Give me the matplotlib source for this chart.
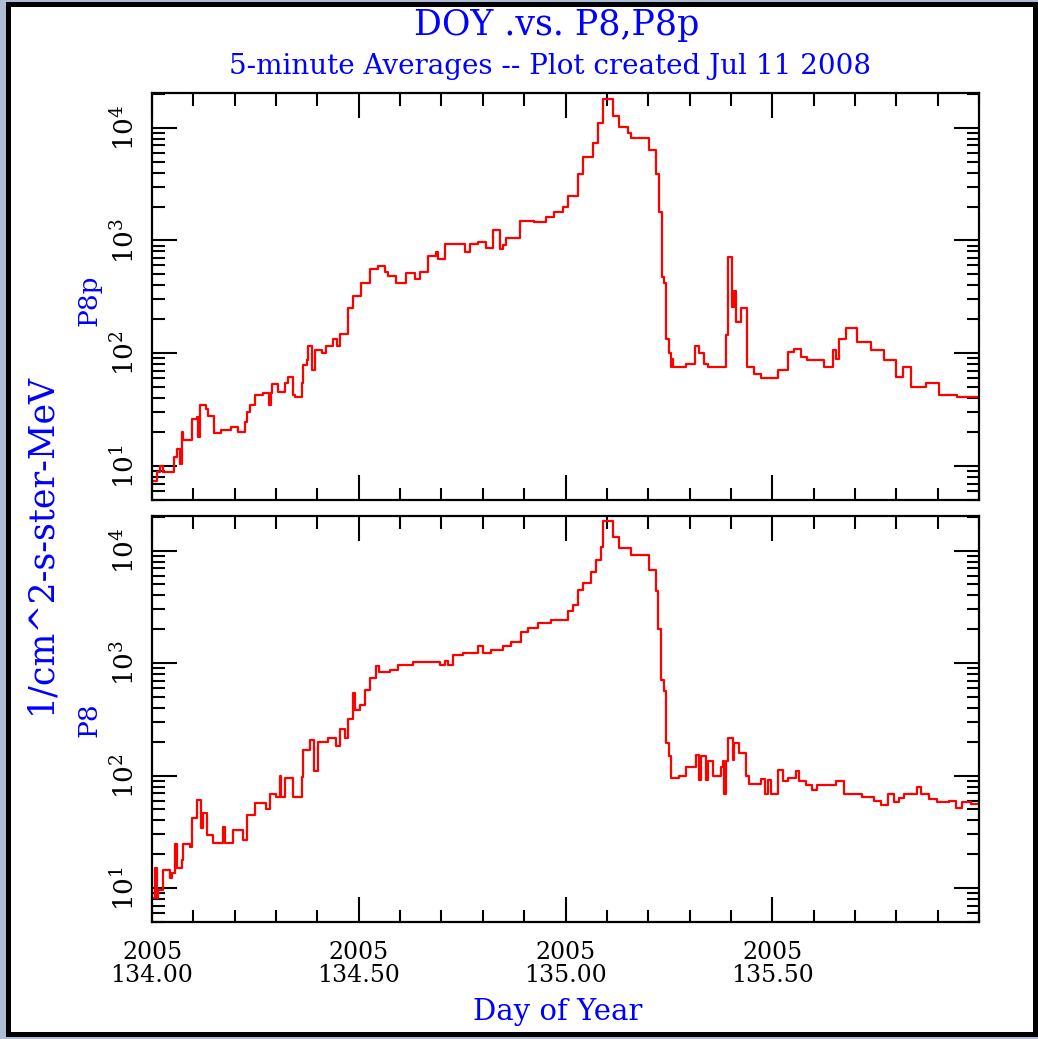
import math
import matplotlib
matplotlib.use('Agg')
import matplotlib.pyplot as plt
from matplotlib.patches import Rectangle
from matplotlib.ticker import FixedLocator, LogLocator, FuncFormatter, NullFormatter, MultipleLocator

# 5-minute averages, day of year 2005 (step starts) and flux
p8p_day = [134.000, 134.011, 134.019, 134.027, 134.053, 134.060, 134.068, 134.072, 134.073, 134.076,
           134.096, 134.108, 134.112, 134.116, 134.130, 134.136, 134.150, 134.168, 134.192, 134.209,
           134.225, 134.229, 134.237, 134.249, 134.269, 134.283, 134.287, 134.291, 134.305, 134.321,
           134.329, 134.341, 134.345, 134.362, 134.366, 134.374, 134.378, 134.388, 134.394, 134.410,
           134.422, 134.438, 134.448, 134.454, 134.474, 134.486, 134.506, 134.527, 134.547, 134.563,
           134.571, 134.591, 134.615, 134.635, 134.647, 134.667, 134.688, 134.692, 134.708, 134.758,
           134.768, 134.788, 134.808, 134.824, 134.841, 134.849, 134.857, 134.889, 134.925, 134.953,
           134.973, 134.994, 135.006, 135.030, 135.042, 135.066, 135.078, 135.090, 135.114, 135.130,
           135.151, 135.159, 135.203, 135.219, 135.227, 135.234, 135.239, 135.243, 135.251, 135.255,
           135.258, 135.261, 135.291, 135.312, 135.324, 135.336, 135.344, 135.388, 135.392, 135.403,
           135.408, 135.412, 135.424, 135.438, 135.457, 135.473, 135.513, 135.537, 135.553, 135.569,
           135.585, 135.626, 135.646, 135.654, 135.662, 135.678, 135.706, 135.738, 135.771, 135.799,
           135.815, 135.835, 135.871, 135.903, 135.948, 136.000]
p8p_flux = [7.4, 8.9, 10, 8.9, 12, 14.3, 10.5, 14.3, 20, 17,
            26, 27, 18, 35, 32, 28, 19.5, 21, 22, 20,
            24.5, 30, 35, 43, 44, 35, 44, 53, 45, 54,
            62, 43, 41, 54, 78, 87, 115, 71, 107, 100,
            117, 135, 117, 148, 250, 324, 417, 562, 590, 525,
            480, 417, 513, 457, 525, 724, 794, 692, 933, 794,
            933, 977, 851, 1230, 832, 912, 1047, 1479, 1445, 1622,
            1778, 1995, 2455, 3890, 5495, 7244, 10965, 17780, 12590, 10230,
            8910, 8035, 6310, 3890, 1778, 479, 417, 135, 100, 76,
            89, 76, 81, 115, 100, 81, 76, 145, 716, 257,
            355, 191, 251, 76, 66, 60, 71, 102, 110, 93,
            87, 76, 107, 89, 135, 166, 126, 107, 87, 62,
            76, 50, 54, 43, 41, 41]

p8_day = [134.000, 134.007, 134.011, 134.015, 134.027, 134.043, 134.048, 134.056, 134.060, 134.072,
          134.076, 134.092, 134.096, 134.108, 134.118, 134.124, 134.134, 134.148, 134.171, 134.176,
          134.196, 134.221, 134.229, 134.249, 134.275, 134.285, 134.301, 134.309, 134.313, 134.321,
          134.341, 134.362, 134.366, 134.382, 134.391, 134.402, 134.426, 134.446, 134.454, 134.466,
          134.474, 134.486, 134.490, 134.502, 134.514, 134.527, 134.541, 134.549, 134.575, 134.595,
          134.631, 134.696, 134.708, 134.716, 134.728, 134.752, 134.788, 134.800, 134.820, 134.849,
          134.869, 134.893, 134.909, 134.933, 134.965, 135.006, 135.018, 135.030, 135.042, 135.062,
          135.074, 135.086, 135.090, 135.114, 135.130, 135.159, 135.203, 135.219, 135.223, 135.231,
          135.239, 135.243, 135.251, 135.255, 135.275, 135.292, 135.316, 135.324, 135.328, 135.340,
          135.344, 135.356, 135.376, 135.380, 135.384, 135.388, 135.392, 135.404, 135.408, 135.420,
          135.436, 135.444, 135.473, 135.483, 135.489, 135.497, 135.513, 135.525, 135.537, 135.557,
          135.565, 135.581, 135.597, 135.609, 135.654, 135.674, 135.718, 135.746, 135.762, 135.779,
          135.795, 135.807, 135.819, 135.851, 135.859, 135.879, 135.899, 135.928, 135.944, 135.960,
          135.980, 136.000]
p8_flux = [8.1, 15, 8.1, 9.7, 14.5, 12.3, 13.5, 24.5, 15, 17.8,
           24.5, 23, 42, 61, 34, 47, 29.5, 25, 35, 25,
           33, 27, 45, 57, 51, 69, 65, 100, 65, 95,
           65, 98, 170, 209, 110, 200, 214, 182, 257, 214,
           316, 537, 385, 427, 575, 733, 933, 832, 871, 955,
           1023, 955, 1047, 966, 1175, 1230, 1413, 1230, 1318, 1413,
           1549, 1905, 2042, 2265, 2399, 2884, 3311, 4467, 5129, 6457,
           8318, 10840, 18200, 13180, 10470, 9120, 6760, 4365, 1995, 708,
           562, 195, 148, 95, 100, 120, 151, 91, 148, 91,
           135, 100, 120, 135, 69, 135, 214, 138, 195, 158,
           100, 85, 93, 69, 91, 68, 112, 89, 95, 110,
           89, 83, 74, 83, 89, 68, 65, 59, 55, 69,
           58, 63, 69, 79, 68, 62, 58, 60, 52, 58,
           56, 56]

x_major = [134.0, 134.5, 135.0, 135.5]
year = 2005

W, H = 1038, 1039
BLUE = '#0000ff'
plt.rcParams['font.family'] = 'DejaVu Serif'
plt.rcParams['mathtext.fontset'] = 'dejavuserif'


def fx(x):
    return x / W


def fy(y):
    return 1 - y / H


fig = plt.figure(figsize=(W / 100, H / 100), dpi=100, facecolor='#aebdd4')
fig.patches.append(Rectangle((fx(8), fy(1034)), fx(1035) - fx(8), fy(4) - fy(1034),
                             transform=fig.transFigure, facecolor='white',
                             edgecolor='black', linewidth=3.6, zorder=-5))

left, width = fx(152), fx(979) - fx(152)
ax_top = fig.add_axes([left, fy(500), width, fy(93) - fy(500)])
ax_bot = fig.add_axes([left, fy(922), width, fy(516) - fy(922)])

for ax, day, flux in [(ax_top, p8p_day, p8p_flux), (ax_bot, p8_day, p8_flux)]:
    ax.plot(day, flux, drawstyle='steps-post', color='red', lw=1.6)
    ax.set_yscale('log')
    ax.set_xlim(134.0, 136.0)
    ax.set_ylim(5, 2.03e4)
    ax.xaxis.set_major_locator(FixedLocator(x_major))
    ax.xaxis.set_minor_locator(MultipleLocator(0.1))
    ax.yaxis.set_major_locator(LogLocator(base=10, numticks=10))
    ax.yaxis.set_minor_locator(LogLocator(base=10, subs=range(2, 10), numticks=20))
    ax.yaxis.set_minor_formatter(NullFormatter())
    ax.yaxis.set_major_formatter(FuncFormatter(
        lambda v, p: r'$\mathregular{10^{%d}}$' % round(math.log10(v))))
    ax.tick_params(which='both', direction='in', top=True, right=True, width=1.5, color='black')
    ax.tick_params(which='major', length=18)
    ax.tick_params(which='minor', length=9)
    ax.tick_params(axis='y', which='major', labelsize=19, pad=9)
    for lab in ax.get_yticklabels():
        lab.set_rotation(90)
        lab.set_va('center')
    for s in ax.spines.values():
        s.set_linewidth(1.6)

ax_top.tick_params(axis='x', labelbottom=False)
ax_bot.xaxis.set_major_formatter(FuncFormatter(lambda v, p: '%d\n%.2f' % (year, v)))
ax_bot.tick_params(axis='x', which='major', labelsize=17, pad=14)
for lab in ax_bot.get_xticklabels():
    lab.set_linespacing(0.95)

fig.text(fx(557), fy(25), 'DOY .vs. P8,P8p', color=BLUE, fontsize=25, ha='center', va='center')
fig.text(fx(550), fy(66), '5-minute Averages -- Plot created Jul 11 2008', color=BLUE,
         fontsize=20, ha='center', va='center')
fig.text(fx(40), fy(543), '1/cm^2-s-ster-MeV', color=BLUE, fontsize=25, rotation=90,
         ha='center', va='center')
fig.text(fx(89), fy(300), 'P8p', color=BLUE, fontsize=19, rotation=90, ha='center', va='center')
fig.text(fx(89), fy(720), 'P8', color=BLUE, fontsize=19, rotation=90, ha='center', va='center')
fig.text(fx(558), fy(1012), 'Day of Year', color=BLUE, fontsize=21, ha='center', va='center')

fig.savefig('out.png', dpi=100, facecolor=fig.get_facecolor())
